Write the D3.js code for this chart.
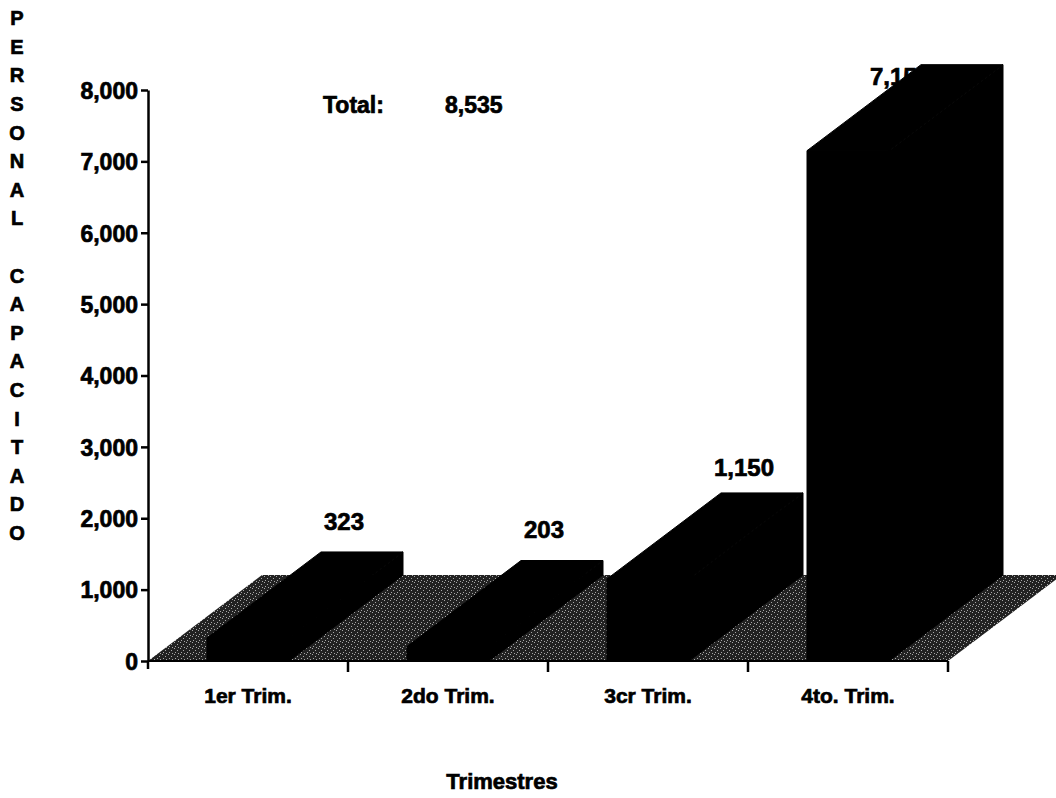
<!DOCTYPE html>
<html>
<head>
<meta charset="utf-8">
<script src="https://cdn.jsdelivr.net/npm/d3@7"></script>
<style>
  html, body { margin: 0; padding: 0; background: #fff; }
  svg { display: block; }
  text { font-family: "Liberation Sans", Arial, sans-serif; font-weight: bold; fill: #000; stroke: #000; stroke-width: 0.7px; }
</style>
</head>
<body>
<svg id="chart" width="1056" height="798"></svg>
<script>
// ---- data ----
const categories = ["1er Trim.", "2do Trim.", "3cr Trim.", "4to. Trim."];
const values = [323, 203, 1150, 7150];
const yTicks = [0, 1000, 2000, 3000, 4000, 5000, 6000, 7000, 8000];
const totalLabel = "Total:";
const totalValue = 8535;
const yTitleWords = ["PERSONAL", "CAPACITADO"];
const xTitle = "Trimestres";

// ---- layout ----
const plotLeft = 148, plotRight = 948, plotBottom = 661, plotTop = 90;
const depthX = 114, depthY = -86;

const svg = d3.select("#chart");

const x = d3.scaleBand().domain(categories).range([plotLeft, plotRight]).padding(0);
const y = d3.scaleLinear().domain([0, 8000]).range([plotBottom, plotTop]);
const yLabel = d3.scaleLinear().domain([0, 8000]).range([551, 30]);
const fmt = d3.format(",");
const barW = x.bandwidth() * 0.41;

// floor texture
const defs = svg.append("defs");
const pat = defs.append("pattern").attr("id", "floorPat")
  .attr("patternUnits", "userSpaceOnUse").attr("width", 6).attr("height", 6);
pat.append("rect").attr("width", 6).attr("height", 6).attr("fill", "#222");
[[0,0],[3,2],[1,4],[4,5]].forEach(([a,b]) =>
  pat.append("rect").attr("x", a).attr("y", b).attr("width", 1).attr("height", 1).attr("fill", "#a8a8a8"));

// floor
const floorPts = [[plotLeft, plotBottom], [plotRight, plotBottom], [plotRight + depthX, plotBottom + depthY], [plotLeft + depthX, plotBottom + depthY]];
svg.append("polygon")
  .attr("points", floorPts.map(p => p.join(",")).join(" "))
  .attr("fill", "url(#floorPat)");

// y axis
const yAxis = d3.axisLeft(y).tickValues(yTicks).tickFormat(fmt).tickSize(7).tickSizeOuter(0).tickPadding(3);
const gy = svg.append("g").attr("transform", `translate(${plotLeft},0)`).call(yAxis);
gy.select(".domain").attr("stroke", "#000").attr("stroke-width", 2.5);
gy.selectAll(".tick line").attr("stroke", "#000").attr("stroke-width", 2.5);
gy.selectAll(".tick text").style("font-size", "23px").style("font-family", '"Liberation Sans", Arial, sans-serif')
  .style("font-weight", "bold").attr("fill", "#000").attr("dy", "0.36em");
svg.append("line").attr("x1", plotLeft).attr("x2", plotLeft).attr("y1", plotBottom).attr("y2", plotBottom + 8)
  .attr("stroke", "#000").attr("stroke-width", 2.5);

// x axis (ticks at band edges, labels at centers)
const edges = categories.map(c => x(c)).concat([plotRight]);
svg.append("line").attr("x1", plotLeft).attr("x2", plotRight).attr("y1", plotBottom).attr("y2", plotBottom)
  .attr("stroke", "#000").attr("stroke-width", 2);
svg.selectAll(".xtick").data(edges.slice(1)).join("line").attr("class", "xtick")
  .attr("x1", d => d).attr("x2", d => d).attr("y1", plotBottom).attr("y2", plotBottom + 11)
  .attr("stroke", "#000").attr("stroke-width", 2.5);
const xAxis = d3.axisBottom(x).tickSize(0).tickPadding(0);
const gx = svg.append("g").attr("transform", `translate(0,${plotBottom})`).call(xAxis);
gx.select(".domain").remove();
gx.selectAll(".tick text").attr("y", 42).attr("dy", 0)
  .style("font-size", "21px").style("font-family", '"Liberation Sans", Arial, sans-serif')
  .style("font-weight", "bold").attr("fill", "#000");

// value labels (drawn before bars so the tall bar can cover its own label)
svg.selectAll(".vlabel").data(values).join("text").attr("class", "vlabel")
  .attr("x", (d, i) => Math.min(x(categories[i]) + x.bandwidth() / 2 + 96, 900))
  .attr("y", d => yLabel(d))
  .attr("text-anchor", "middle").style("font-size", "24px")
  .text(d => fmt(d));

// bars
const bars = svg.selectAll(".bar").data(values).join("g").attr("class", "bar");
bars.each(function(d, i) {
  const g = d3.select(this);
  const x0 = x(categories[i]) + (x.bandwidth() - barW) / 2;
  const x1 = x0 + barW;
  const yt = y(d), yb = y(0);
  const poly = pts => pts.map(p => p.join(",")).join(" ");
  const face = pts => g.append("polygon").attr("points", poly(pts))
    .attr("fill", "#000").attr("stroke", "#000").attr("stroke-width", 1).attr("stroke-linejoin", "round");
  face([[x0, yt], [x0 + depthX, yt + depthY], [x1 + depthX, yt + depthY], [x1, yt]]);
  face([[x1, yt], [x1 + depthX, yt + depthY], [x1 + depthX, yb + depthY], [x1, yb]]);
  face([[x0, yt], [x1, yt], [x1, yb], [x0, yb]]);
});

// total
svg.append("text").attr("x", 323).attr("y", 113).style("font-size", "23px").text(totalLabel);
svg.append("text").attr("x", 445).attr("y", 113).style("font-size", "23px").text(fmt(totalValue));

// y title, stacked letters
const letters = [];
yTitleWords.forEach((w, wi) => {
  if (wi > 0) letters.push("");
  w.split("").forEach(ch => letters.push(ch));
});
svg.append("g").selectAll("text").data(letters).join("text")
  .attr("x", 17).attr("y", (d, i) => 18 + i * 28.6).attr("dy", "0.36em")
  .attr("text-anchor", "middle").style("font-size", "20px")
  .text(d => d);

// x title
svg.append("text").attr("x", 502).attr("y", 789).attr("text-anchor", "middle")
  .style("font-size", "22px").text(xTitle);
</script>
</body>
</html>
